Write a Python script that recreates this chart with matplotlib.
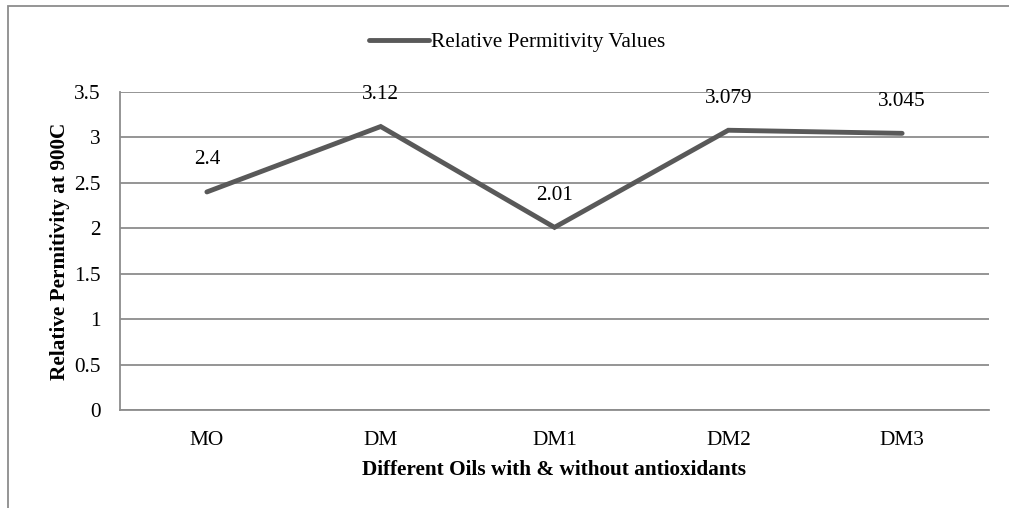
import matplotlib
matplotlib.use("Agg")
import matplotlib.pyplot as plt
from matplotlib.patches import Rectangle

categories = ["MO", "DM", "DM1", "DM2", "DM3"]
values = [2.4, 3.12, 2.01, 3.079, 3.045]
value_labels = ["2.4", "3.12", "2.01", "3.079", "3.045"]
yticks = [0, 0.5, 1, 1.5, 2, 2.5, 3, 3.5]
ytick_labels = ["0", "0.5", "1", "1.5", "2", "2.5", "3", "3.5"]

W, H = 1009, 508
FS = 15.3
plt.rcParams["font.family"] = ["Liberation Serif", "DejaVu Serif"]

fig = plt.figure(figsize=(W / 100, H / 100), dpi=100)
# plot area in pixels: left 120, right 989, top 92, bottom 410
ax = fig.add_axes([120 / W, 1 - 410 / H, (989 - 120) / W, (410 - 92) / H])

# outer chart border (cropped on right and bottom)
fig.patches.append(Rectangle((8 / W, -0.05), 1.2, 1 - 6 / H + 0.05,
                             transform=fig.transFigure, fill=False,
                             edgecolor="#8c8c8c", linewidth=1.3))

x = list(range(len(categories)))
line, = ax.plot(x, values, color="#595959", linewidth=3.5,
                solid_joinstyle="miter", solid_capstyle="round",
                label="Relative Permitivity Values")
for xi, v, s in zip(x, values, value_labels):
    ax.annotate(s, (xi, v), xytext=(0, 23), textcoords="offset points",
                ha="center", va="center", fontsize=FS, color="black")

ax.set_xlim(-0.5, len(categories) - 0.5)
ax.set_ylim(0, 3.5)
ax.set_xticks(x)
ax.set_xticklabels(categories)
ax.set_yticks(yticks)
ax.set_yticklabels(ytick_labels)
ax.tick_params(length=0, labelsize=FS)
ax.tick_params(axis="x", pad=15)
ax.tick_params(axis="y", pad=14)
ax.grid(axis="y", color="#8c8c8c", linewidth=1.3)
ax.set_axisbelow(True)
for side in ["top", "right"]:
    ax.spines[side].set_visible(False)
for side in ["left", "bottom"]:
    ax.spines[side].set_color("#8c8c8c")
    ax.spines[side].set_linewidth(1.3)

ax.set_xlabel("Different Oils with & without antioxidants", fontsize=FS,
              fontweight="bold", labelpad=7)
ax.set_ylabel("Relative Permitivity at 900C", fontsize=FS,
              fontweight="bold", labelpad=3)

fig.legend(handles=[line], loc="center", bbox_to_anchor=(517 / W, 1 - 42 / H),
           frameon=False, fontsize=FS, handlelength=2.8, handletextpad=0.1)

fig.savefig("out.png", dpi=100)
